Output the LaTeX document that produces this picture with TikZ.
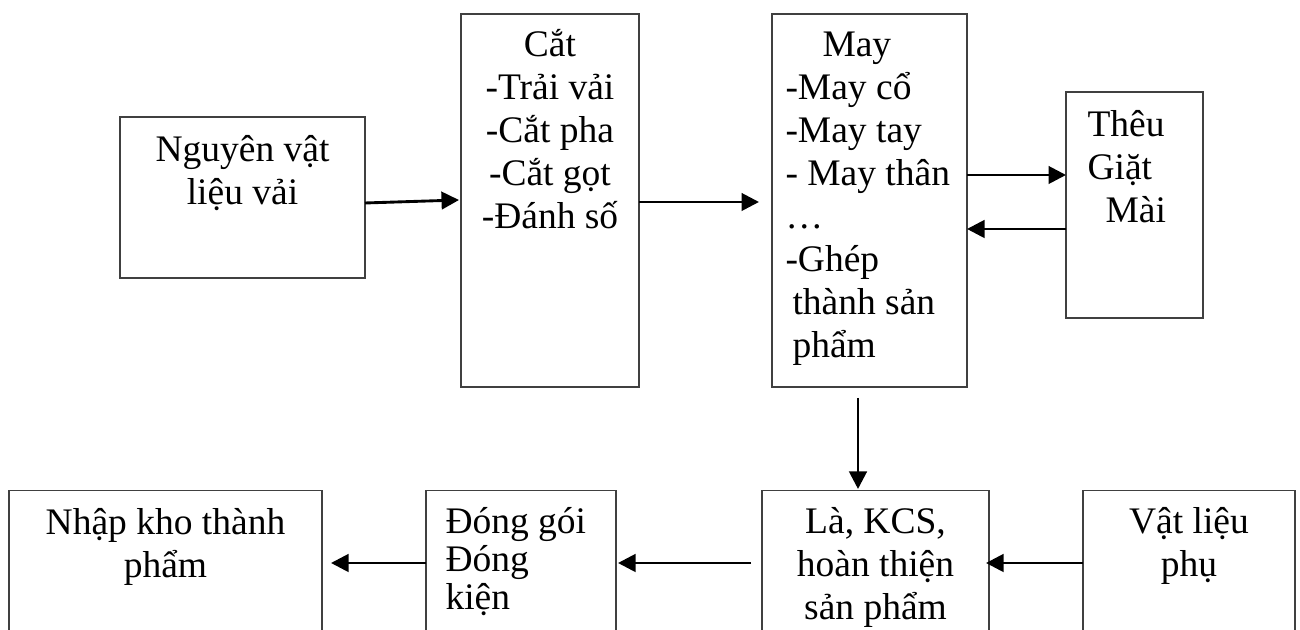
\documentclass[tikz,border=0pt]{standalone}
\usepackage{fontspec}
\setmainfont{Liberation Serif}
\usetikzlibrary{arrows.meta,calc}
\tikzset{
  box/.style={draw=black!75, line width=0.5pt, rectangle, inner sep=0pt, outer sep=0pt},
  txt/.style={inner sep=0pt, font=\fontsize{15pt}{17.2pt}\selectfont},
  tighttxt/.style={inner sep=0pt, font=\fontsize{15pt}{15.2pt}\selectfont},
  flow/.style={line width=1.15pt, -{Triangle[length=7pt,width=7pt]}},
}
\begin{document}
\begin{tikzpicture}[x=0.4pt,y=-0.4pt]
\useasboundingbox (0,0) rectangle (1300,630);
\clip (0,0) rectangle (1300,630);

% process boxes, upper row
\node[box, minimum width=98pt,   minimum height=64.4pt]  (nguyen) at (242.5,197.5) {};
\node[box, minimum width=71.2pt, minimum height=149.2pt] (cat)    at (550,200.5) {};
\node[box, minimum width=78pt,   minimum height=149.2pt] (may)    at (869.5,200.5) {};
\node[box, minimum width=54.8pt, minimum height=90.4pt]  (theu)   at (1134.5,205) {};

% process boxes, lower row (running off the bottom edge)
\node[box, minimum width=125.2pt, minimum height=67.8pt] (nhap) at (165.5,575.25) {};
\node[box, minimum width=76pt,    minimum height=67.8pt] (dong) at (521,575.25) {};
\node[box, minimum width=90.8pt,  minimum height=67.8pt] (la)   at (875.5,575.25) {};
\node[box, minimum width=84.8pt,  minimum height=67.8pt] (vat)  at (1189,575.25) {};

% box texts
\node[txt, text width=90pt, align=flush center, anchor=base] (nguyentext) at (242.5,162)
  {Nguyên vật\\liệu vải};
\node[txt, text width=70pt, align=flush center, anchor=base] (cattext) at (550,57)
  {Cắt\\-Trải vải\\-Cắt pha\\-Cắt gọt\\-Đánh số};
\node[txt, text width=76pt, align=flush left, anchor=base west] (maytext) at (785,57)
  {\hspace*{14.8pt}May\\-May cổ\\-May tay\\- May thân\\…\\-Ghép\\\hspace*{2.8pt}thành sản\\\hspace*{2.8pt}phẩm};
\node[txt, text width=50pt, align=flush left, anchor=base west] (theutext) at (1087,137)
  {Thêu\\Giặt\\\hspace*{7.2pt}Mài};
\node[txt, text width=120pt, align=flush center, anchor=base] (nhaptext) at (165.5,535)
  {Nhập kho thành\\phẩm};
\node[tighttxt, text width=70pt, align=flush left, anchor=base west] (dongtext) at (445,534)
  {Đóng gói\\Đóng\\kiện};
\node[txt, text width=88pt, align=flush center, anchor=base] (latext) at (875.5,534)
  {Là, KCS,\\hoàn thiện\\sản phẩm};
\node[txt, text width=80pt, align=flush center, anchor=base] (vattext) at (1189,534)
  {Vật liệu\\phụ};

% flow arrows
\draw[flow] ($(nguyen.east)+(0,5.5)$) -- ($(cat.west)+(-2,-0.5)$);
\draw[flow] ($(cat.east)+(0,1.5)$) -- ($(may.west)+(-13,1.5)$);
\draw[flow] ($(may.east)+(0,-25.5)$) -- ($(theu.west)+(0,-30)$);
\draw[flow] ($(theu.west)+(0,24)$) -- ($(may.east)+(0,28.5)$);
\draw[flow] ($(may.south)+(-11.5,11)$) -- ($(la.north)+(-17.5,-1.5)$);
\draw[flow] ($(vat.west)+(0,-12.25)$) -- ($(la.east)+(-3,-12.25)$);
\draw[flow] ($(la.west)+(-11,-12.25)$) -- ($(dong.east)+(2,-12.25)$);
\draw[flow] ($(dong.west)+(0,-12.25)$) -- ($(nhap.east)+(9,-12.25)$);
\end{tikzpicture}
\end{document}
